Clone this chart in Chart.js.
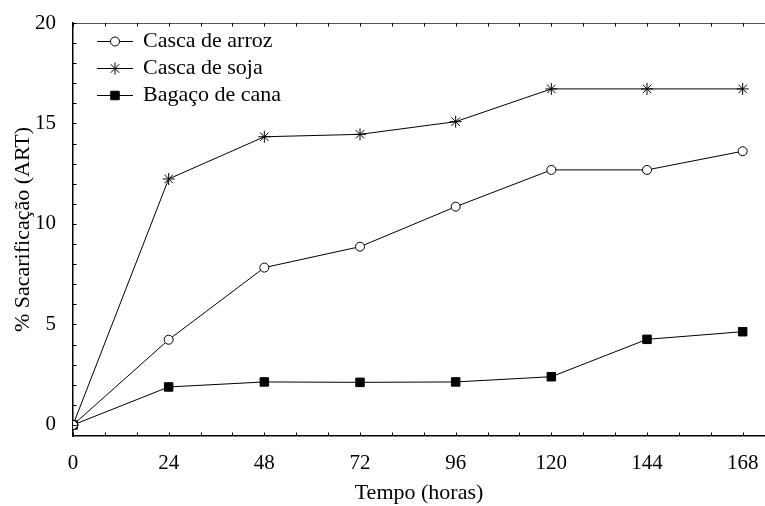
<!DOCTYPE html>
<html>
<head>
<meta charset="utf-8">
<script src="https://cdn.jsdelivr.net/npm/chart.js@4/dist/chart.umd.min.js"></script>
<style>
html,body{margin:0;padding:0;background:#fff;}
canvas{display:block;}
</style>
</head>
<body>
<canvas id="c" width="765" height="506"></canvas>
<script>
const hours = [0, 24, 48, 72, 96, 120, 144, 168];
const cascaArroz = [0, 4.24, 7.83, 8.87, 10.86, 12.69, 12.69, 13.62];
const cascaSoja = [0, 12.24, 14.34, 14.46, 15.09, 16.72, 16.72, 16.72];
const bagacoCana = [0, 1.89, 2.14, 2.12, 2.14, 2.40, 4.26, 4.64];
const seriesNames = ['Casca de arroz', 'Casca de soja', 'Bagaço de cana'];
const xTickValues = [0, 24, 48, 72, 96, 120, 144, 168];
const yTickValues = [0, 5, 10, 15, 20];
const xTitle = 'Tempo (horas)';
const yTitle = '% Sacarificação (ART)';

const SERIF = "'Liberation Serif', 'Times New Roman', serif";
Chart.defaults.font.family = SERIF;
Chart.defaults.color = '#000';

function pts(vals){ return hours.map((h,i)=>({x:h, y:vals[i]})); }

const styles = [
  {pointStyle:'circle', pointRadius:4.5, pointBackgroundColor:'#fff'},
  {pointStyle:'star', pointRadius:6, pointBackgroundColor:'#000'},
  {pointStyle:'rect', pointRadius:6, pointBackgroundColor:'#000'}
];

const datasets = [cascaArroz, cascaSoja, bagacoCana].map((vals,i)=>Object.assign({
  label: seriesNames[i],
  data: pts(vals),
  borderColor:'#000',
  borderWidth:1,
  pointBorderColor:'#000',
  pointBorderWidth:1,
  pointHoverRadius: styles[i].pointRadius,
  tension:0,
  fill:false
}, styles[i]));

const framePlugin = {
  id:'frame',
  afterDatasetsDraw(chart){
    const {ctx, chartArea:a, scales:{x,y}} = chart;
    ctx.save();
    ctx.strokeStyle = '#555';
    ctx.lineWidth = 1;
    ctx.beginPath();
    ctx.moveTo(a.left, a.top + 0.5);
    ctx.lineTo(a.right, a.top + 0.5);
    ctx.stroke();
    ctx.strokeStyle = '#000';
    ctx.beginPath();
    for (let v = x.min; v <= x.max + 1e-6; v += 8) {
      const px = Math.round(x.getPixelForValue(v)) + 0.5;
      ctx.moveTo(px, a.bottom); ctx.lineTo(px, a.bottom - 3.5);
      ctx.moveTo(px, a.top); ctx.lineTo(px, a.top + 3.5);
    }
    for (let v = 0; v <= 20 + 1e-6; v += 1) {
      const py = Math.round(y.getPixelForValue(v)) + 0.5;
      ctx.moveTo(a.left, py); ctx.lineTo(a.left + 3.5, py);
    }
    ctx.stroke();
    ctx.restore();
  }
};

const legendPlugin = {
  id:'customLegend',
  afterDraw(chart){
    const ctx = chart.ctx;
    ctx.save();
    const rows = [41, 68, 95];
    chart.data.datasets.forEach((ds, i) => {
      const yy = rows[i];
      ctx.strokeStyle = '#000';
      ctx.lineWidth = 1;
      ctx.beginPath();
      ctx.moveTo(97, yy + 0.5);
      ctx.lineTo(133, yy + 0.5);
      ctx.stroke();
      ctx.fillStyle = ds.pointBackgroundColor;
      ctx.strokeStyle = '#000';
      Chart.helpers.drawPoint(ctx, {pointStyle: ds.pointStyle, radius: ds.pointRadius, rotation: 0, borderWidth: 1}, 115, yy + 0.5);
      ctx.fillStyle = '#000';
      ctx.font = '22px ' + SERIF;
      ctx.textBaseline = 'middle';
      ctx.textAlign = 'left';
      ctx.fillText(ds.label, 143, yy);
    });
    ctx.restore();
  }
};

new Chart(document.getElementById('c'), {
  type:'line',
  data:{ datasets },
  options:{
    responsive:false,
    devicePixelRatio:1,
    animation:false,
    layout:{ autoPadding:false, padding:{ top:23, right:0, left:0, bottom:0 } },
    plugins:{ legend:{display:false}, tooltip:{enabled:false} },
    scales:{
      x:{
        type:'linear',
        min:0, max:173.6,
        afterBuildTicks(s){ s.ticks = xTickValues.map(v=>({value:v})); },
        afterFit(s){ s.height = 70; s.paddingLeft = 0; s.paddingRight = 0; },
        grid:{ display:false },
        border:{ display:true, color:'#000', width:1.5 },
        ticks:{ font:{size:21, family:SERIF}, color:'#000', padding:7, maxRotation:0 },
        title:{ display:true, text:xTitle, font:{size:22, family:SERIF}, color:'#000', padding:{top:0,bottom:0} }
      },
      y:{
        type:'linear',
        min:-0.55, max:20,
        afterBuildTicks(s){ s.ticks = yTickValues.map(v=>({value:v})); },
        afterFit(s){ s.width = 73; s.paddingTop = 0; s.paddingBottom = 0; },
        grid:{ display:false },
        border:{ display:true, color:'#000', width:1.5 },
        ticks:{ font:{size:21, family:SERIF}, color:'#000', padding:9 },
        title:{ display:true, text:yTitle, font:{size:22, family:SERIF}, color:'#000', padding:{top:10,bottom:0} }
      }
    }
  },
  plugins:[framePlugin, legendPlugin]
});
</script>
</body>
</html>
